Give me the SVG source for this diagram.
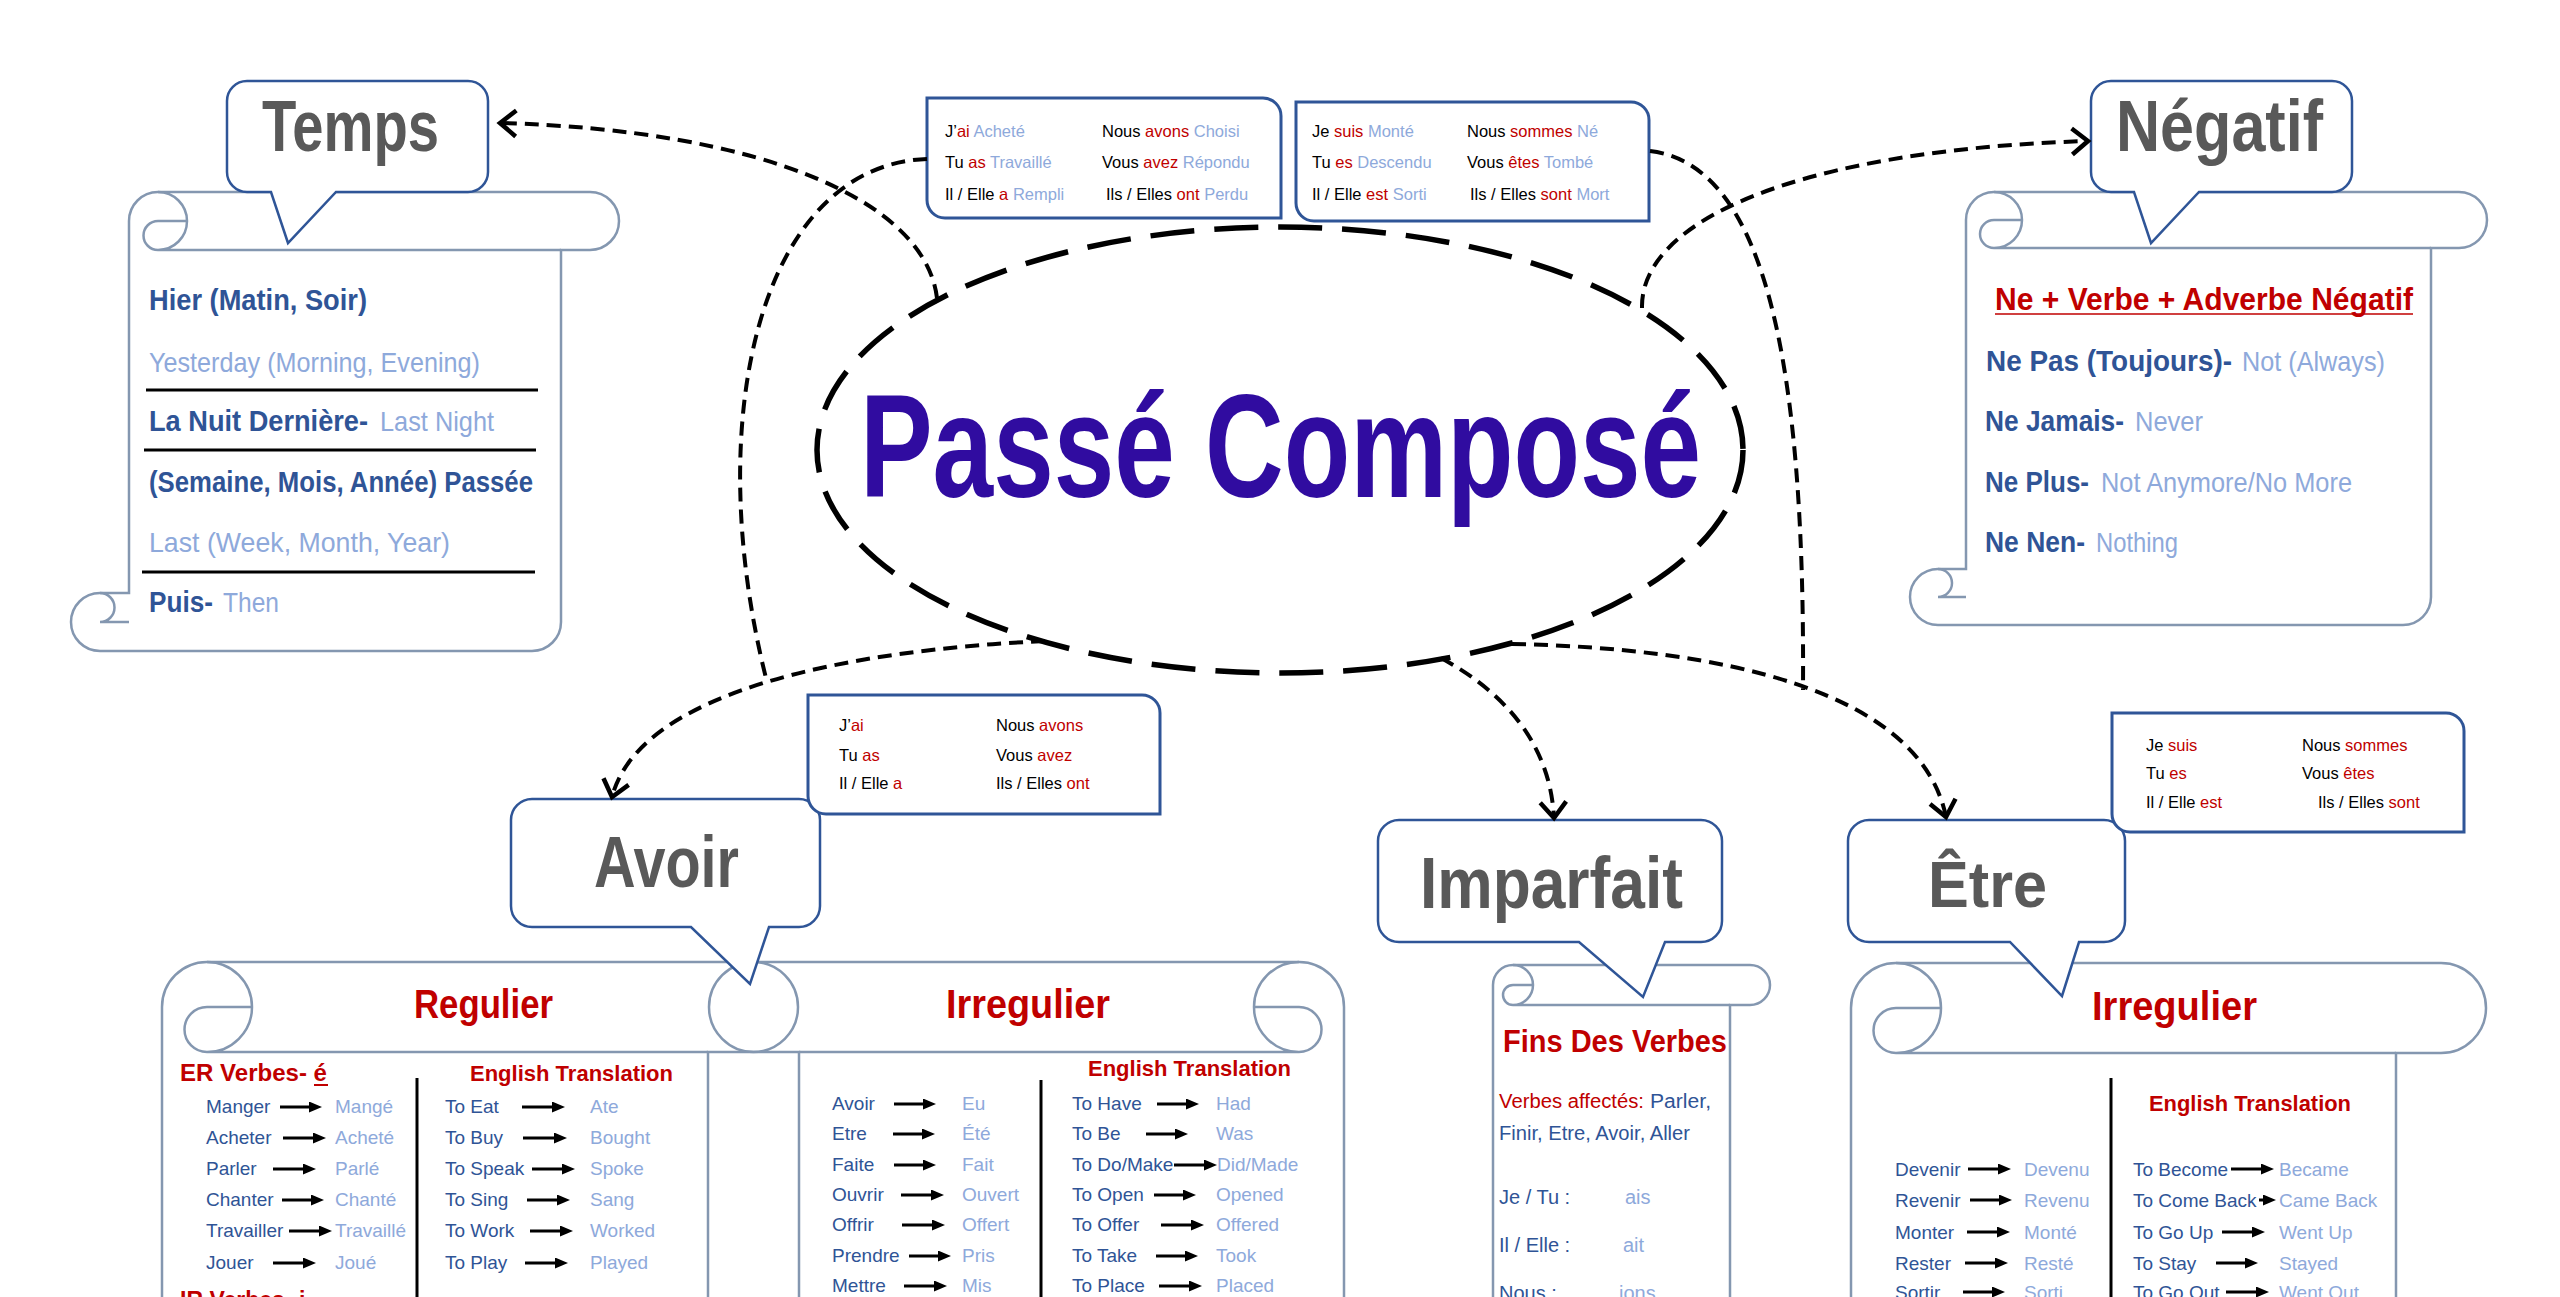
<svg xmlns="http://www.w3.org/2000/svg" width="2560" height="1297" viewBox="0 0 2560 1297">
<defs>
<style>
.f{font-family:'Liberation Sans',Arial,sans-serif}
.b{font-weight:bold}
.db{fill:#2F5496}
.lb{fill:#8EA9DB}
.rd{fill:#C00000}
.bk{fill:#000}
.gy{fill:#595959}
.scroll{fill:none;stroke:#8497B0;stroke-width:2.5}
.bubble{fill:#fff;stroke:#2F5597;stroke-width:2.5}
.cbox{fill:#fff;stroke:#2F5597;stroke-width:3}
.conn{fill:none;stroke:#000;stroke-width:4;stroke-dasharray:14 8}
.sep{stroke:#000;stroke-width:3}
.arr{stroke:#000;stroke-width:3;marker-end:url(#tri)}
.row{font-family:'Liberation Sans',Arial,sans-serif;font-size:19px}
.cj{font-family:'Liberation Sans',Arial,sans-serif;font-size:16.5px}
</style>
<marker id="tri" markerUnits="userSpaceOnUse" viewBox="0 0 13 11" refX="4" refY="5.5" markerWidth="13" markerHeight="11" orient="auto"><path d="M0,0 L13,5.5 L0,11 Z" fill="#000"/></marker>
<marker id="chev" markerUnits="userSpaceOnUse" viewBox="-20 -16 24 32" refX="0" refY="0" markerWidth="24" markerHeight="32" orient="auto"><path d="M-16,-13 L0,0 L-16,13" fill="none" stroke="#000" stroke-width="4.5"/></marker>
</defs>
<rect width="2560" height="1297" fill="#fff"/>

<!-- Central node -->
<g id="passe-compose">
<ellipse cx="1280" cy="450" rx="463" ry="223" fill="none" stroke="#000" stroke-width="5.5" stroke-dasharray="44 20"/>
<text x="860" y="497" class="f b" font-size="146" fill="#300CA0" textLength="841" lengthAdjust="spacingAndGlyphs">Passé Composé</text>
</g>

<!-- Temps -->
<g id="temps">
<path class="scroll" d="M129,221 A29 29 0 0 1 158,192 H590 A29 29 0 0 1 590,250 H561 V622 A29 29 0 0 1 532,651 H100 A29 29 0 0 1 100,593 H129 Z"/>
<path class="scroll" d="M158,192 A29 29 0 0 1 158,250 M158,250 A14.5 14.5 0 0 1 158,221 L187,221 M158,250 H561 M100,593 A14.5 14.5 0 0 1 100,622 L129,622"/>
<path class="bubble" d="M247,81 H468 A20 20 0 0 1 488,101 V172 A20 20 0 0 1 468,192 H336 L288,243 L271,192 H247 A20 20 0 0 1 227,172 V101 A20 20 0 0 1 247,81 Z"/>
<text x="262" y="151" class="f b gy" font-size="72" textLength="177" lengthAdjust="spacingAndGlyphs">Temps</text>
<text x="149" y="310" class="f b db" font-size="29" textLength="218" lengthAdjust="spacingAndGlyphs">Hier (Matin, Soir)</text>
<text x="149" y="372" class="f lb" font-size="28" textLength="331" lengthAdjust="spacingAndGlyphs">Yesterday (Morning, Evening)</text>
<line class="sep" x1="146" y1="390" x2="538" y2="390"/>
<text x="149" y="431" class="f b db" font-size="29" textLength="219" lengthAdjust="spacingAndGlyphs">La Nuit Dernière-</text>
<text x="380" y="431" class="f lb" font-size="28" textLength="114" lengthAdjust="spacingAndGlyphs">Last Night</text>
<line class="sep" x1="144" y1="450" x2="536" y2="450"/>
<text x="149" y="492" class="f b db" font-size="29" textLength="384" lengthAdjust="spacingAndGlyphs">(Semaine, Mois, Année) Passée</text>
<text x="149" y="552" class="f lb" font-size="28" textLength="301" lengthAdjust="spacingAndGlyphs">Last (Week, Month, Year)</text>
<line class="sep" x1="142" y1="572" x2="535" y2="572"/>
<text x="149" y="612" class="f b db" font-size="29" textLength="64" lengthAdjust="spacingAndGlyphs">Puis-</text>
<text x="223" y="612" class="f lb" font-size="28" textLength="56" lengthAdjust="spacingAndGlyphs">Then</text>
</g>

<!-- Négatif -->
<g id="negatif">
<path class="scroll" d="M1966,220 A28 28 0 0 1 1994,192 H2459 A28 28 0 0 1 2459,248 H2431 V597 A28 28 0 0 1 2403,625 H1938 A28 28 0 0 1 1938,569 H1966 Z"/>
<path class="scroll" d="M1994,192 A28 28 0 0 1 1994,248 M1994,248 A14 14 0 0 1 1994,220 L2022,220 M1994,248 H2431 M1938,569 A14 14 0 0 1 1938,597 L1966,597"/>
<path class="bubble" d="M2111,81 H2332 A20 20 0 0 1 2352,101 V172 A20 20 0 0 1 2332,192 H2199 L2151,243 L2134,192 H2111 A20 20 0 0 1 2091,172 V101 A20 20 0 0 1 2111,81 Z"/>
<text x="2116" y="151" class="f b gy" font-size="72" textLength="207" lengthAdjust="spacingAndGlyphs">Négatif</text>
<text x="1995" y="310" class="f b rd" font-size="32" textLength="418" lengthAdjust="spacingAndGlyphs">Ne + Verbe + Adverbe Négatif</text>
<line x1="1995" y1="314" x2="2413" y2="314" stroke="#C00000" stroke-width="1.5"/>
<text x="1986" y="371" class="f b db" font-size="29" textLength="246" lengthAdjust="spacingAndGlyphs">Ne Pas (Toujours)-</text>
<text x="2242" y="371" class="f lb" font-size="28" textLength="143" lengthAdjust="spacingAndGlyphs">Not (Always)</text>
<text x="1985" y="431" class="f b db" font-size="29" textLength="139" lengthAdjust="spacingAndGlyphs">Ne Jamais-</text>
<text x="2135" y="431" class="f lb" font-size="28" textLength="68" lengthAdjust="spacingAndGlyphs">Never</text>
<text x="1985" y="492" class="f b db" font-size="29" textLength="104" lengthAdjust="spacingAndGlyphs">Ne Plus-</text>
<text x="2101" y="492" class="f lb" font-size="28" textLength="251" lengthAdjust="spacingAndGlyphs">Not Anymore/No More</text>
<text x="1985" y="552" class="f b db" font-size="29" textLength="100" lengthAdjust="spacingAndGlyphs">Ne Nen-</text>
<text x="2096" y="552" class="f lb" font-size="28" textLength="82" lengthAdjust="spacingAndGlyphs">Nothing</text>
</g>

<!-- Example conjugation boxes at top -->
<g id="exemples-avoir">
<path class="cbox" d="M927,98 H1263 A18 18 0 0 1 1281,116 V218 H945 A18 18 0 0 1 927,200 Z"/>
<text class="cj" x="945" y="137"><tspan class="bk">J’</tspan><tspan class="rd">ai</tspan><tspan class="lb"> Acheté</tspan></text>
<text class="cj" x="1102" y="137"><tspan class="bk">Nous </tspan><tspan class="rd">avons</tspan><tspan class="lb"> Choisi</tspan></text>
<text class="cj" x="945" y="168"><tspan class="bk">Tu </tspan><tspan class="rd">as</tspan><tspan class="lb"> Travaillé</tspan></text>
<text class="cj" x="1102" y="168"><tspan class="bk">Vous </tspan><tspan class="rd">avez</tspan><tspan class="lb"> Répondu</tspan></text>
<text class="cj" x="945" y="200"><tspan class="bk">Il / Elle </tspan><tspan class="rd">a</tspan><tspan class="lb"> Rempli</tspan></text>
<text class="cj" x="1106" y="200"><tspan class="bk">Ils / Elles </tspan><tspan class="rd">ont</tspan><tspan class="lb"> Perdu</tspan></text>
</g>
<g id="exemples-etre">
<path class="cbox" d="M1296,102 H1631 A18 18 0 0 1 1649,120 V221 H1314 A18 18 0 0 1 1296,203 Z"/>
<text class="cj" x="1312" y="137"><tspan class="bk">Je </tspan><tspan class="rd">suis</tspan><tspan class="lb"> Monté</tspan></text>
<text class="cj" x="1467" y="137"><tspan class="bk">Nous </tspan><tspan class="rd">sommes</tspan><tspan class="lb"> Né</tspan></text>
<text class="cj" x="1312" y="168"><tspan class="bk">Tu </tspan><tspan class="rd">es</tspan><tspan class="lb"> Descendu</tspan></text>
<text class="cj" x="1467" y="168"><tspan class="bk">Vous </tspan><tspan class="rd">êtes</tspan><tspan class="lb"> Tombé</tspan></text>
<text class="cj" x="1312" y="200"><tspan class="bk">Il / Elle </tspan><tspan class="rd">est</tspan><tspan class="lb"> Sorti</tspan></text>
<text class="cj" x="1470" y="200"><tspan class="bk">Ils / Elles </tspan><tspan class="rd">sont</tspan><tspan class="lb"> Mort</tspan></text>
</g>

<!-- Avoir -->
<g id="avoir">
<path class="scroll" d="M162,1400 V1007 A45 45 0 0 1 207,962 H753 A45 45 0 0 1 753,1052 H708 V1400"/>
<path class="scroll" d="M207,962 A45 45 0 0 1 207,1052 M207,1052 A22.5 22.5 0 0 1 207,1007 L252,1007 M207,1052 H708"/>
<path class="scroll" d="M1344,1400 V1007 A45 45 0 0 0 1299,962 H754 A45 45 0 0 0 754,1052 H799 V1400"/>
<path class="scroll" d="M1299,962 A45 45 0 0 0 1299,1052 M1299,1052 A22.5 22.5 0 0 0 1299,1007 L1254,1007 M1299,1052 H799"/>
<path class="bubble" d="M532,799 H799 A21 21 0 0 1 820,820 V906 A21 21 0 0 1 799,927 H769 L750,984 L691,927 H532 A21 21 0 0 1 511,906 V820 A21 21 0 0 1 532,799 Z"/>
<text x="594" y="887" class="f b gy" font-size="72" textLength="145" lengthAdjust="spacingAndGlyphs">Avoir</text>
<path class="cbox" d="M808,695 H1142 A18 18 0 0 1 1160,713 V814 H826 A18 18 0 0 1 808,796 Z"/>
<text class="cj" x="839" y="731"><tspan class="bk">J’</tspan><tspan class="rd">ai</tspan></text>
<text class="cj" x="996" y="731"><tspan class="bk">Nous </tspan><tspan class="rd">avons</tspan></text>
<text class="cj" x="839" y="761"><tspan class="bk">Tu </tspan><tspan class="rd">as</tspan></text>
<text class="cj" x="996" y="761"><tspan class="bk">Vous </tspan><tspan class="rd">avez</tspan></text>
<text class="cj" x="839" y="789"><tspan class="bk">Il / Elle </tspan><tspan class="rd">a</tspan></text>
<text class="cj" x="996" y="789"><tspan class="bk">Ils / Elles </tspan><tspan class="rd">ont</tspan></text>

<text x="414" y="1018" class="f b rd" font-size="40" textLength="139" lengthAdjust="spacingAndGlyphs">Regulier</text>
<text x="180" y="1081" class="f b rd" font-size="23" textLength="147" lengthAdjust="spacingAndGlyphs">ER Verbes- é</text>
<line x1="314" y1="1085" x2="328" y2="1085" stroke="#C00000" stroke-width="2"/>
<text x="470" y="1081" class="f b rd" font-size="22" textLength="203" lengthAdjust="spacingAndGlyphs">English Translation</text>
<line class="sep" x1="417" y1="1078" x2="417" y2="1297"/>
<g class="row">
<text x="206" y="1113" class="db">Manger</text><line class="arr" x1="280" y1="1107" x2="313" y2="1107"/><text x="335" y="1113" class="lb">Mangé</text>
<text x="206" y="1144" class="db">Acheter</text><line class="arr" x1="283" y1="1138" x2="317" y2="1138"/><text x="335" y="1144" class="lb">Acheté</text>
<text x="206" y="1175" class="db">Parler</text><line class="arr" x1="273" y1="1169" x2="307" y2="1169"/><text x="335" y="1175" class="lb">Parlé</text>
<text x="206" y="1206" class="db">Chanter</text><line class="arr" x1="282" y1="1200" x2="315" y2="1200"/><text x="335" y="1206" class="lb">Chanté</text>
<text x="206" y="1237" class="db">Travailler</text><line class="arr" x1="289" y1="1231" x2="323" y2="1231"/><text x="335" y="1237" class="lb">Travaillé</text>
<text x="206" y="1269" class="db">Jouer</text><line class="arr" x1="273" y1="1263" x2="307" y2="1263"/><text x="335" y="1269" class="lb">Joué</text>
<text x="445" y="1113" class="db">To Eat</text><line class="arr" x1="522" y1="1107" x2="556" y2="1107"/><text x="590" y="1113" class="lb">Ate</text>
<text x="445" y="1144" class="db">To Buy</text><line class="arr" x1="523" y1="1138" x2="558" y2="1138"/><text x="590" y="1144" class="lb">Bought</text>
<text x="445" y="1175" class="db">To Speak</text><line class="arr" x1="532" y1="1169" x2="566" y2="1169"/><text x="590" y="1175" class="lb">Spoke</text>
<text x="445" y="1206" class="db">To Sing</text><line class="arr" x1="527" y1="1200" x2="561" y2="1200"/><text x="590" y="1206" class="lb">Sang</text>
<text x="445" y="1237" class="db">To Work</text><line class="arr" x1="530" y1="1231" x2="564" y2="1231"/><text x="590" y="1237" class="lb">Worked</text>
<text x="445" y="1269" class="db">To Play</text><line class="arr" x1="525" y1="1263" x2="559" y2="1263"/><text x="590" y="1269" class="lb">Played</text>
</g>
<text x="180" y="1308" class="f b rd" font-size="23">IR Verbes- i</text>

<text x="946" y="1018" class="f b rd" font-size="40" textLength="164" lengthAdjust="spacingAndGlyphs">Irregulier</text>
<text x="1088" y="1076" class="f b rd" font-size="22" textLength="203" lengthAdjust="spacingAndGlyphs">English Translation</text>
<line class="sep" x1="1041" y1="1080" x2="1041" y2="1297"/>
<g class="row">
<text x="832" y="1110" class="db">Avoir</text><line class="arr" x1="894" y1="1104" x2="927" y2="1104"/><text x="962" y="1110" class="lb">Eu</text>
<text x="832" y="1140" class="db">Etre</text><line class="arr" x1="893" y1="1134" x2="926" y2="1134"/><text x="962" y="1140" class="lb">Été</text>
<text x="832" y="1171" class="db">Faite</text><line class="arr" x1="894" y1="1165" x2="927" y2="1165"/><text x="962" y="1171" class="lb">Fait</text>
<text x="832" y="1201" class="db">Ouvrir</text><line class="arr" x1="901" y1="1195" x2="935" y2="1195"/><text x="962" y="1201" class="lb">Ouvert</text>
<text x="832" y="1231" class="db">Offrir</text><line class="arr" x1="902" y1="1225" x2="936" y2="1225"/><text x="962" y="1231" class="lb">Offert</text>
<text x="832" y="1262" class="db">Prendre</text><line class="arr" x1="909" y1="1256" x2="942" y2="1256"/><text x="962" y="1262" class="lb">Pris</text>
<text x="832" y="1292" class="db">Mettre</text><line class="arr" x1="904" y1="1286" x2="938" y2="1286"/><text x="962" y="1292" class="lb">Mis</text>
<text x="1072" y="1110" class="db">To Have</text><line class="arr" x1="1157" y1="1104" x2="1190" y2="1104"/><text x="1216" y="1110" class="lb">Had</text>
<text x="1072" y="1140" class="db">To Be</text><line class="arr" x1="1146" y1="1134" x2="1179" y2="1134"/><text x="1216" y="1140" class="lb">Was</text>
<text x="1072" y="1171" class="db">To Do/Make</text><line class="arr" x1="1174" y1="1165" x2="1208" y2="1165"/><text x="1217" y="1171" class="lb">Did/Made</text>
<text x="1072" y="1201" class="db">To Open</text><line class="arr" x1="1154" y1="1195" x2="1187" y2="1195"/><text x="1216" y="1201" class="lb">Opened</text>
<text x="1072" y="1231" class="db">To Offer</text><line class="arr" x1="1161" y1="1225" x2="1195" y2="1225"/><text x="1216" y="1231" class="lb">Offered</text>
<text x="1072" y="1262" class="db">To Take</text><line class="arr" x1="1156" y1="1256" x2="1189" y2="1256"/><text x="1216" y="1262" class="lb">Took</text>
<text x="1072" y="1292" class="db">To Place</text><line class="arr" x1="1159" y1="1286" x2="1193" y2="1286"/><text x="1216" y="1292" class="lb">Placed</text>
</g>
</g>

<!-- Imparfait -->
<g id="imparfait">
<path class="scroll" d="M1493,1400 V985 A20 20 0 0 1 1513,965 H1750 A20 20 0 0 1 1750,1005 H1730 V1400"/>
<path class="scroll" d="M1513,965 A20 20 0 0 1 1513,1005 M1513,1005 A10 10 0 0 1 1513,985 L1533,985 M1513,1005 H1730"/>
<path class="bubble" d="M1399,820 H1701 A21 21 0 0 1 1722,841 V921 A21 21 0 0 1 1701,942 H1665 L1643,997 L1579,942 H1399 A21 21 0 0 1 1378,921 V841 A21 21 0 0 1 1399,820 Z"/>
<text x="1420" y="908" class="f b gy" font-size="72" textLength="263" lengthAdjust="spacingAndGlyphs">Imparfait</text>
<text x="1503" y="1052" class="f b rd" font-size="31" textLength="224" lengthAdjust="spacingAndGlyphs">Fins Des Verbes</text>
<text x="1499" y="1108" class="f rd" font-size="20" textLength="145" lengthAdjust="spacingAndGlyphs">Verbes affectés:</text>
<text x="1650" y="1108" class="f db" font-size="20" textLength="61" lengthAdjust="spacingAndGlyphs">Parler,</text>
<text x="1499" y="1140" class="f db" font-size="20" textLength="191" lengthAdjust="spacingAndGlyphs">Finir, Etre, Avoir, Aller</text>
<text x="1499" y="1204" class="f db" font-size="20">Je / Tu :</text><text x="1625" y="1204" class="f lb" font-size="20">ais</text>
<text x="1499" y="1252" class="f db" font-size="20">Il / Elle :</text><text x="1623" y="1252" class="f lb" font-size="20">ait</text>
<text x="1499" y="1300" class="f db" font-size="20">Nous :</text><text x="1619" y="1300" class="f lb" font-size="20">ions</text>
</g>

<!-- Être -->
<g id="etre">
<path class="scroll" d="M1851,1400 V1008 A45 45 0 0 1 1896,963 H2441 A45 45 0 0 1 2441,1053 H2396 V1400"/>
<path class="scroll" d="M1896,963 A45 45 0 0 1 1896,1053 M1896,1053 A22.5 22.5 0 0 1 1896,1008 L1941,1008 M1896,1053 H2396"/>
<path class="bubble" d="M1869,820 H2104 A21 21 0 0 1 2125,841 V921 A21 21 0 0 1 2104,942 H2079 L2062,996 L2010,942 H1869 A21 21 0 0 1 1848,921 V841 A21 21 0 0 1 1869,820 Z"/>
<text x="1928" y="907" class="f b gy" font-size="64" textLength="119" lengthAdjust="spacingAndGlyphs">Être</text>
<path class="cbox" d="M2112,713 H2446 A18 18 0 0 1 2464,731 V832 H2130 A18 18 0 0 1 2112,814 Z"/>
<text class="cj" x="2146" y="751"><tspan class="bk">Je </tspan><tspan class="rd">suis</tspan></text>
<text class="cj" x="2302" y="751"><tspan class="bk">Nous </tspan><tspan class="rd">sommes</tspan></text>
<text class="cj" x="2146" y="779"><tspan class="bk">Tu </tspan><tspan class="rd">es</tspan></text>
<text class="cj" x="2302" y="779"><tspan class="bk">Vous </tspan><tspan class="rd">êtes</tspan></text>
<text class="cj" x="2146" y="808"><tspan class="bk">Il / Elle </tspan><tspan class="rd">est</tspan></text>
<text class="cj" x="2318" y="808"><tspan class="bk">Ils / Elles </tspan><tspan class="rd">sont</tspan></text>
<text x="2092" y="1020" class="f b rd" font-size="40" textLength="165" lengthAdjust="spacingAndGlyphs">Irregulier</text>
<text x="2149" y="1111" class="f b rd" font-size="22" textLength="202" lengthAdjust="spacingAndGlyphs">English Translation</text>
<line class="sep" x1="2111" y1="1078" x2="2111" y2="1297"/>
<g class="row">
<text x="1895" y="1176" class="db">Devenir</text><line class="arr" x1="1968" y1="1169" x2="2002" y2="1169"/><text x="2024" y="1176" class="lb">Devenu</text>
<text x="1895" y="1207" class="db">Revenir</text><line class="arr" x1="1970" y1="1200" x2="2003" y2="1200"/><text x="2024" y="1207" class="lb">Revenu</text>
<text x="1895" y="1239" class="db">Monter</text><line class="arr" x1="1967" y1="1232" x2="2001" y2="1232"/><text x="2024" y="1239" class="lb">Monté</text>
<text x="1895" y="1270" class="db">Rester</text><line class="arr" x1="1965" y1="1263" x2="1999" y2="1263"/><text x="2024" y="1270" class="lb">Resté</text>
<text x="1895" y="1299" class="db">Sortir</text><line class="arr" x1="1963" y1="1292" x2="1996" y2="1292"/><text x="2024" y="1299" class="lb">Sorti</text>
<text x="2133" y="1176" class="db">To Become</text><line class="arr" x1="2231" y1="1169" x2="2265" y2="1169"/><text x="2279" y="1176" class="lb">Became</text>
<text x="2133" y="1207" class="db">To Come Back</text><line class="arr" x1="2259" y1="1200" x2="2267" y2="1200"/><text x="2279" y="1207" class="lb">Came Back</text>
<text x="2133" y="1239" class="db">To Go Up</text><line class="arr" x1="2222" y1="1232" x2="2256" y2="1232"/><text x="2279" y="1239" class="lb">Went Up</text>
<text x="2133" y="1270" class="db">To Stay</text><line class="arr" x1="2216" y1="1263" x2="2249" y2="1263"/><text x="2279" y="1270" class="lb">Stayed</text>
<text x="2133" y="1299" class="db">To Go Out</text><line class="arr" x1="2226" y1="1292" x2="2260" y2="1292"/><text x="2279" y="1299" class="lb">Went Out</text>
</g>
</g>

<!-- Connectors -->
<g id="connectors">
<path class="conn" d="M937,298 C925,200 760,130 500,123" marker-end="url(#chev)"/>
<path class="conn" d="M927,159 C760,165 700,420 767,682"/>
<path class="conn" d="M1045,641 C850,650 640,690 612,797" marker-end="url(#chev)"/>
<path class="conn" d="M1441,658 C1500,690 1550,740 1554,818" marker-end="url(#chev)"/>
<path class="conn" d="M1512,644 C1720,648 1920,690 1946,817" marker-end="url(#chev)"/>
<path class="conn" d="M1650,151 C1770,165 1805,380 1803,690"/>
<path class="conn" d="M1642,308 C1640,220 1800,150 2088,141" marker-end="url(#chev)"/>
</g>
</svg>
